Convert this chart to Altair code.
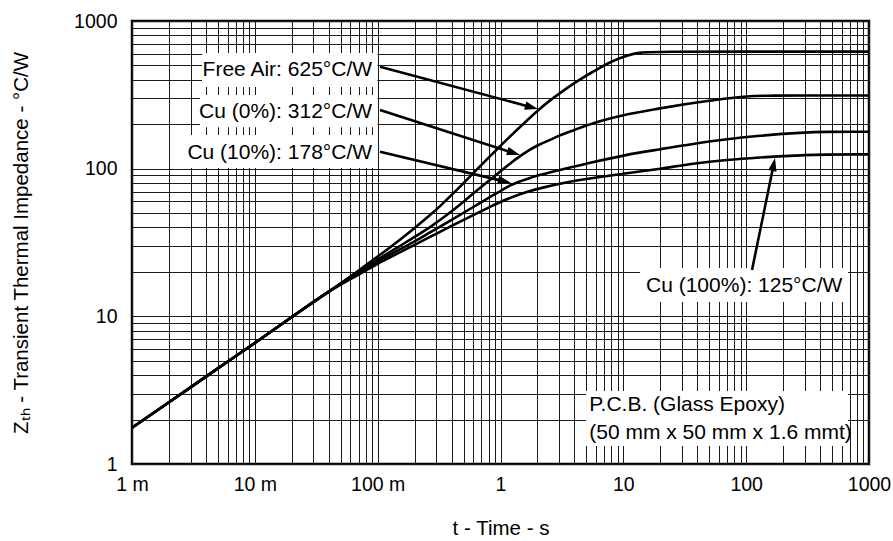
import math
import altair as alt
import pandas as pd

# ---------------- data ----------------
series_names = ["Free Air", "Cu (0%)", "Cu (10%)", "Cu (100%)"]

common_t = [0.001, 0.002, 0.005, 0.01, 0.02, 0.04]
common_z = [1.76, 2.62, 4.44, 6.6, 9.9, 14.7]

free_t = [0.07, 0.1, 0.15, 0.2, 0.267, 0.33, 0.4, 0.5, 0.6, 0.8, 1.0, 1.5, 2.04, 2.46, 3.05, 4.2, 5.7, 8.0, 10.7, 13, 16, 25, 100, 1000]
free_z = [20.45, 25.4, 32.8, 39.7, 48.5, 56.9, 66.4, 79.9, 93.2, 118.7, 142.8, 197.5, 249.4, 284.4, 325, 390, 455, 530, 582, 606, 615, 619, 620, 620]

cu0_t = [0.07, 0.1, 0.15, 0.2, 0.267, 0.33, 0.4, 0.5, 0.6, 0.8, 1.0, 1.2, 1.445, 1.7, 2.0, 2.5, 3.05, 4.0, 5.7, 10, 19.9, 50, 95, 150, 300, 1000]
cu0_z = [20.0, 24.2, 29.8, 34.5, 40.2, 45.6, 51.5, 59.8, 67.8, 82.5, 96, 108.5, 121.5, 133, 143.5, 156, 168, 183, 203, 230, 256, 288, 307, 312, 313, 313]

cu10_t = [0.07, 0.1, 0.15, 0.2, 0.267, 0.4, 0.6, 0.8, 1.0, 1.2, 1.5, 1.74, 2.2, 3.05, 5.0, 10.7, 20, 37, 70, 130, 250, 454, 1000]
cu10_z = [19.8, 23.5, 28.3, 32.2, 37, 45, 55, 63.5, 70.5, 77, 83, 86.5, 91.5, 98, 108, 124, 135.5, 147, 158, 167, 174, 177.5, 178]

cu100_t = [0.07, 0.1, 0.15, 0.2, 0.267, 0.4, 0.6, 0.8, 1.0, 1.3, 1.74, 2.3, 3.05, 5, 10.7, 20, 37, 70, 130, 250, 454, 1000]
cu100_z = [19.2, 22.7, 27, 30.5, 34.5, 41, 48.5, 54.5, 59.5, 65, 70.5, 75, 79, 85, 93, 100, 108, 114.5, 119, 122.5, 124.5, 125]

x_tick_values = [0.001, 0.01, 0.1, 1, 10, 100, 1000]
x_tick_labels = ["1 m", "10 m", "100 m", "1", "10", "100", "1000"]
y_tick_values = [1, 10, 100, 1000]
y_tick_labels = ["1", "10", "100", "1000"]

# annotation labels (data coordinates)
label_texts_r = ["Free Air: 625°C/W", "Cu (0%): 312°C/W", "Cu (10%): 178°C/W"]
label_t_r = [0.09, 0.09, 0.09]
label_z_r = [466, 242, 127]

label_texts_l = ["Cu (100%): 125°C/W", "P.C.B. (Glass Epoxy)", "(50 mm x 50 mm x 1.6 mmt)"]
label_t_l = [15.3, 5.28, 5.28]
label_z_l = [16.04, 2.49, 1.622]

box_t1 = [0.00372, 0.00358, 0.0028, 13.7, 4.97]
box_t2 = [0.0995, 0.0995, 0.0995, 675, 675]
box_z1 = [357, 191, 101, 12.5, 1.324]
box_z2 = [607, 315, 169, 21.25, 3.12]

arrow_t_start = [0.1045, 0.1045, 0.1045, 111.6]
arrow_z_start = [490.4, 249.6, 130.3, 20.6]
arrow_t_tip = [2.02, 1.442, 1.218, 171.7]
arrow_z_tip = [253.6, 123.7, 80.0, 118.1]

# ---------------- build tables ----------------
rows = []
for name, ts, zs in zip(series_names,
                        [free_t, cu0_t, cu10_t, cu100_t],
                        [free_z, cu0_z, cu10_z, cu100_z]):
    for t, z in zip(common_t + ts, common_z + zs):
        rows.append({"series": name, "t": t, "z": z})
curves = pd.DataFrame(rows)

W, H = 737, 443
PX_X = W / 6.0   # px per decade
PX_Y = H / 3.0

arrows = []
for ts, zs, tt, zt in zip(arrow_t_start, arrow_z_start, arrow_t_tip, arrow_z_tip):
    dx = (math.log10(tt) - math.log10(ts)) * PX_X
    dy = -(math.log10(zt) - math.log10(zs)) * PX_Y
    L = math.hypot(dx, dy)
    ux, uy = dx / L, dy / L
    back = 8.0
    te = 10 ** (math.log10(tt) - back * ux / PX_X)
    ze = 10 ** (math.log10(zt) + back * uy / PX_Y)
    ang = math.degrees(math.atan2(dx, -dy)) % 360
    arrows.append({"ts": ts, "zs": zs, "te": te, "ze": ze, "tt": tt, "zt": zt, "ang": ang})
arrows = pd.DataFrame(arrows)

boxes = pd.DataFrame({"t1": box_t1, "t2": box_t2, "z1": box_z1, "z2": box_z2})
lab_r = pd.DataFrame({"text": label_texts_r, "t": label_t_r, "z": label_z_r})
lab_l = pd.DataFrame({"text": label_texts_l, "t": label_t_l, "z": label_z_l})


def label_expr(vals, labs):
    parts = [f"abs(datum.value - {v}) < {v * 1e-6} ? '{l}'" for v, l in zip(vals, labs)]
    return " : ".join(parts) + " : ''"


x_grid = [m * 10 ** e for e in range(-3, 3) for m in range(1, 10)] + [1000]
y_grid = [m * 10 ** e for e in range(0, 3) for m in range(1, 10)] + [1000]

FONT = "Liberation Sans"

xscale = alt.Scale(type="log", domain=[0.001, 1000], nice=False)
yscale = alt.Scale(type="log", domain=[1, 1000], nice=False)

xaxis = alt.Axis(values=x_grid, labelExpr=label_expr(x_tick_values, x_tick_labels),
                 ticks=False, domain=False, grid=True, labelFlush=False, labelOverlap=False,
                 labelFont=FONT, labelFontSize=19.5, labelColor="black", labelPadding=11,
                 title="t - Time - s", titleFont=FONT, titleFontSize=20.5,
                 titleFontWeight="normal", titleColor="black", titlePadding=25)
yaxis = alt.Axis(values=y_grid, labelExpr=label_expr(y_tick_values, y_tick_labels),
                 ticks=False, domain=False, grid=True, labelOverlap=False,
                 labelFont=FONT, labelFontSize=19.5, labelColor="black", labelPadding=15,
                 title="Zₜₕ - Transient Thermal Impedance - °C/W", titleFont=FONT,
                 titleFontSize=20.5, titleFontWeight="normal", titleColor="black",
                 titlePadding=42)

lines = alt.Chart(curves).mark_line(color="black", strokeWidth=2.6, interpolate="monotone").encode(
    x=alt.X("t:Q", scale=xscale, axis=xaxis),
    y=alt.Y("z:Q", scale=yscale, axis=yaxis),
    detail="series:N",
)

rects = alt.Chart(boxes).mark_rect(fill="white").encode(
    x=alt.X("t1:Q", scale=xscale), x2="t2:Q",
    y=alt.Y("z1:Q", scale=yscale), y2="z2:Q",
)

rules = alt.Chart(arrows).mark_rule(color="black", strokeWidth=2.6).encode(
    x=alt.X("ts:Q", scale=xscale), x2="te:Q",
    y=alt.Y("zs:Q", scale=yscale), y2="ze:Q",
)

heads = alt.Chart(arrows).mark_point(
    shape="M0,0L-0.32,1L0.32,1Z", filled=True, fill="black", color="black",
    opacity=1, size=700, strokeWidth=0.5,
).encode(
    x=alt.X("tt:Q", scale=xscale),
    y=alt.Y("zt:Q", scale=yscale),
    angle=alt.Angle("ang:Q", scale=None),
)

texts_r = alt.Chart(lab_r).mark_text(align="right", baseline="middle", font=FONT,
                                     fontSize=21, color="black").encode(
    x=alt.X("t:Q", scale=xscale), y=alt.Y("z:Q", scale=yscale), text="text:N")

texts_l = alt.Chart(lab_l).mark_text(align="left", baseline="middle", font=FONT,
                                     fontSize=21, color="black").encode(
    x=alt.X("t:Q", scale=xscale), y=alt.Y("z:Q", scale=yscale), text="text:N")

chart = alt.layer(lines, rects, rules, heads, texts_r, texts_l).properties(
    width=W, height=H,
    autosize=alt.AutoSizeParams(type="none"),
    padding={"left": 132, "top": 21, "right": 24, "bottom": 77},
    background="white",
).configure_view(stroke="black", strokeWidth=2.5).configure_axis(
    gridColor="#1a1a1a", gridWidth=1, gridOpacity=1
)

chart.save("out.html", embed_options={"renderer": "svg", "actions": False})
